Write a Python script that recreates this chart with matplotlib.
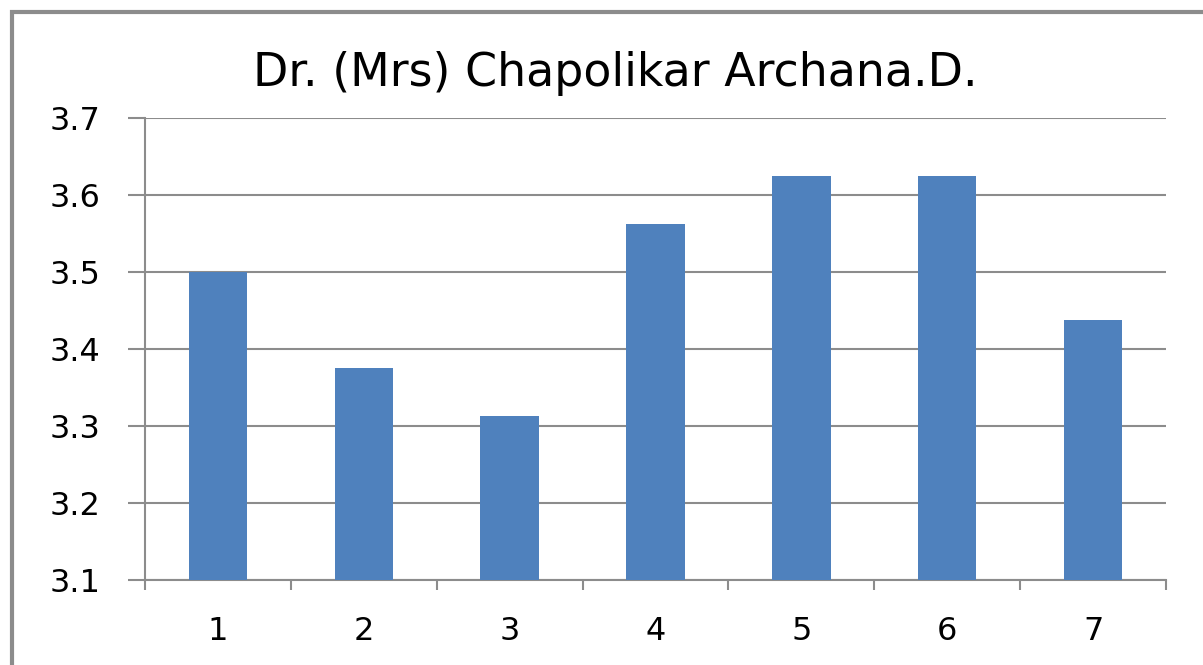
import matplotlib.pyplot as plt
from matplotlib.patches import Rectangle

categories = ["1", "2", "3", "4", "5", "6", "7"]
values = [3.5, 3.375, 3.3125, 3.5625, 3.625, 3.625, 3.4375]
title = "Dr. (Mrs) Chapolikar Archana.D."

plt.rcParams["font.family"] = ["DejaVu Sans"]

fig = plt.figure(figsize=[12.03, 6.65], dpi=100)
ax = fig.add_axes([145 / 1203, 1 - 580 / 665, (1166 - 145) / 1203, (580 - 118) / 665])

x = list(range(len(categories)))
ax.bar(x, values, width=0.4, color="#4F81BD", zorder=3)

ax.set_xlim(-0.5, len(categories) - 0.5)
ax.set_ylim(3.1, 3.7)
ax.set_yticks([3.1, 3.2, 3.3, 3.4, 3.5, 3.6, 3.7])
ax.set_yticklabels(["3.1", "3.2", "3.3", "3.4", "3.5", "3.6", "3.7"])
ax.set_xticks(x)
ax.set_xticklabels(categories)
ax.set_xticks([i - 0.5 for i in range(len(categories) + 1)], minor=True)

ax.grid(axis="y", color="#8C8C8C", linewidth=1.5, zorder=0)
for side in ["top", "right"]:
    ax.spines[side].set_visible(False)
for side in ["left", "bottom"]:
    ax.spines[side].set_color("#8C8C8C")
    ax.spines[side].set_linewidth(1.5)

ax.tick_params(axis="y", length=12, width=1.5, color="#8C8C8C", labelsize=23, pad=20)
ax.tick_params(axis="x", which="major", length=0, labelsize=23, pad=26)
ax.tick_params(axis="x", which="minor", length=7, width=1.5, color="#8C8C8C")

fig.text(615 / 1203, 1 - 74 / 665, title, ha="center", va="center", fontsize=33)

fig.patches.append(Rectangle((12 / 1203, -0.1), 1.2, 1 - 12 / 665 + 0.1,
                             transform=fig.transFigure, fill=False,
                             edgecolor="#8C8C8C", linewidth=3))

fig.savefig("out.png", dpi=100)
